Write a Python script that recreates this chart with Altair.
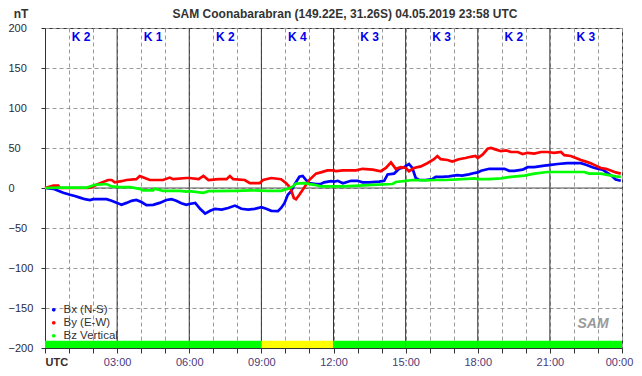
import altair as alt
import pandas as pd

FONT = "Liberation Sans"

# ---- data (hours UTC, nT) ----
bx_hours = [0, 0.35, 0.55, 0.76, 1.04, 1.24, 1.45, 1.66, 1.87, 2.0, 2.56, 2.77, 3.0, 3.18, 3.39, 3.6, 3.8, 4.01,
            4.22, 4.5, 4.77, 5.05, 5.26, 5.46, 5.67, 5.88, 6.0, 6.25, 6.45, 6.66, 6.87, 7.07, 7.35, 7.62, 7.9, 8.17,
            8.45, 8.72, 9.0, 9.2, 9.41, 9.69, 9.82, 9.96, 10.1, 10.24, 10.37, 10.58, 10.72, 10.86, 10.99, 11.27,
            11.47, 11.61, 11.89, 12.04, 12.18, 12.39, 12.73, 13.0, 13.21, 13.49, 13.9, 14.11, 14.25, 14.52, 14.73,
            14.94, 15.14, 15.28, 15.42, 15.56, 15.83, 16.11, 16.25, 16.52, 16.8, 17.15, 17.35, 17.63, 17.9, 18.0,
            18.14, 18.48, 18.83, 19.11, 19.31, 19.52, 19.87, 20.07, 20.35, 20.77, 21.04, 21.32, 21.73, 22.01, 22.29,
            22.5, 22.77, 22.98, 23.19, 23.39, 23.6, 23.74, 23.95]
bx_values = [0, -1, -3.4, -6, -8.5, -10, -12, -14, -15, -14, -14, -16, -18.6, -21, -18.6, -16, -15, -17.5,
             -21.5, -21, -18.6, -15, -14, -16, -19, -21, -20, -18.6, -26, -32, -28.5, -26, -27, -25, -22, -26,
             -27, -26, -24, -26, -28.5, -29, -25, -19, -8.5, -4, 4, 14, 15, 10, 6, 5,
             5, 7, 8.5, 8, 9, 6, 9, 9, 7, 7, 8, 9, 17, 18, 24,
             26, 30, 25, 12.5, 10, 10, 11, 14, 14, 14.5, 16, 15.5, 17, 19, 19.5,
             21.5, 24, 24, 24, 21.5, 21.5, 23, 26, 26, 28, 29, 30, 31, 31, 31,
             29, 26, 24, 23, 19, 14.5, 10.5, 9]

by_hours = [0, 0.35, 0.55, 0.62, 1.8, 1.94, 2.21, 2.42, 2.63, 2.77, 2.9, 3.18, 3.39, 3.8, 3.94, 4.15, 4.36, 4.91,
            5.19, 5.33, 5.88, 6.0, 6.39, 6.59, 6.8, 7.21, 7.55, 7.69, 7.83, 8.31, 8.52, 8.93, 9.07, 9.41, 9.82,
            10.03, 10.21, 10.35, 10.44, 10.58, 10.79, 10.99, 11.27, 11.47, 11.75, 12.0, 12.11, 12.39, 12.94, 13.21,
            13.63, 13.97, 14.18, 14.39, 14.59, 14.8, 15.01, 15.14, 15.35, 15.63, 15.9, 16.18, 16.32, 16.46, 16.74,
            16.94, 17.21, 17.49, 17.7, 17.9, 18.0, 18.21, 18.41, 18.55, 18.76, 18.97, 19.18, 19.38, 19.66, 19.87,
            20.07, 20.35, 20.63, 20.9, 21.18, 21.46, 21.6, 21.87, 22.08, 22.29, 22.5, 22.7, 22.91, 23.12, 23.33,
            23.53, 23.74, 23.95]
by_values = [0, 3, 3, 0, 0, 1, 5, 7.5, 10, 10, 7, 8.5, 10, 11, 15, 12.5, 10, 10,
             13, 11, 12.5, 12.5, 11, 15, 10, 11, 11, 15, 11, 10, 6, 6, 10, 12.5, 11,
             6, 0, -12.5, -14, -8.5, 1, 10, 18, 19.5, 22, 22, 21, 22, 22, 24,
             23, 21, 25, 32, 24, 26, 25, 21, 25, 27, 31, 36, 40, 36, 35,
             33, 36, 37.5, 39, 40, 37.5, 42, 49, 50, 48, 46, 47, 45, 45, 42.5,
             44, 43, 45, 45, 44, 45, 41, 40, 37.5, 35, 33, 31, 28, 25, 24,
             22, 19.5, 18]

bz_hours = [0, 0.62, 1.73, 1.87, 2.07, 2.56, 2.77, 3.11, 3.53, 3.94, 4.08, 4.5, 4.56, 4.91, 5.6, 5.88, 6.0, 6.59,
            6.8, 7.9, 8.59, 9.27, 9.82, 10.1, 10.31, 10.44, 10.79, 11.2, 11.47, 12.02, 12.39, 13.08, 13.63, 14.46,
            14.59, 15.01, 15.28, 15.83, 16.25, 16.66, 17.35, 17.9, 18.0, 18.48, 18.97, 19.38, 19.94, 20.35, 20.9,
            21.46, 22.01, 22.43, 22.63, 23.12, 23.39, 23.74, 23.95]
bz_values = [0, 0.5, 0.5, 2, 4, 5, 2, 1, 1, -1, -3, -3, -1, -3.5, -3.5, -4.5, -4, -6,
             -4, -3.5, -3, -3.5, -3.5, -1, 2, 5.5, 6, 4, 2, 2, 2, 3, 4, 5,
             7.5, 9, 10, 9.5, 10, 10, 11, 12, 11, 11, 12, 14, 15.5, 18, 20,
             20, 20, 20, 18, 18, 16.5, 14.5, 14]

series_names = ["Bx (N-S)", "By (E-W)", "Bz Vertical"]
series_colors = ["#0000FF", "#FF0000", "#00FF00"]

k_start = [0, 3, 6, 9, 12, 15, 18, 21]
k_index = [2, 1, 2, 4, 3, 3, 2, 3]

y_ticks = [-200, -150, -100, -50, 0, 50, 100, 150, 200]
x_ticks = list(range(25))
major_hours = [3, 6, 9, 12, 15, 18, 21]

title_text = "SAM Coonabarabran (149.22E, 31.26S) 04.05.2019 23:58 UTC"

# ---- tables ----
rows = []
for name, ts, vs in zip(series_names, [bx_hours, by_hours, bz_hours], [bx_values, by_values, bz_values]):
    assert len(ts) == len(vs), name
    for t, v in zip(ts, vs):
        rows.append({"hour": t, "nT": v, "series": name})
lines_df = pd.DataFrame(rows)

k_df = pd.DataFrame({
    "hour": k_start,
    "end": [s + 3 for s in k_start],
    "mid": [s + 1.5 for s in k_start],
    "K": k_index,
    "label": [f"K {k}" for k in k_index],
    "nT": [-200] * len(k_start),
    "hi": [-191] * len(k_start),
})

xs = alt.Scale(domain=[0, 24], nice=False, zero=False)
ys = alt.Scale(domain=[-200, 200], nice=False, zero=False)

label_expr = ("datum.value == 0 ? 'UTC' : (datum.value % 3 != 0 ? '' : "
              "(datum.value == 24 ? '00:00' : (datum.value < 10 ? '0' : '') + datum.value + ':00'))")

x_axis = alt.Axis(
    values=x_ticks, labelExpr=label_expr, title=None, grid=True, gridDash=[4, 3], gridColor="#9a9a9a",
    tickSize=5, tickColor="#333333", domainColor="#333333", labelFontSize=11, labelFont=FONT,
    labelColor={"condition": {"test": "datum.value == 0", "value": "#3a2a2a"}, "value": "#4a3a7a"},
    labelFontWeight={"condition": {"test": "datum.value == 0", "value": "bold"}, "value": "normal"},
    labelAlign={"condition": {"test": "datum.value == 0", "value": "left"}, "value": "center"},
    labelOffset={"condition": {"test": "datum.value == 24", "value": -3}, "value": 0},
    labelPadding=3, labelFlush=False, labelOverlap=False,
)
y_axis = alt.Axis(
    values=y_ticks, title=None, grid=True, gridDash=[4, 3], gridColor="#9a9a9a",
    tickSize=4, tickColor="#333333", domainColor="#333333", labelFontSize=11, labelFont=FONT,
    labelColor="#2a2a3a", labelAlign="left", labelBaseline="middle", labelPadding=33,
    labelFlush=False, labelOverlap=False,
)

X = alt.X("hour:Q", scale=xs, axis=x_axis)
Y = alt.Y("nT:Q", scale=ys, axis=y_axis)

lines = alt.Chart(lines_df).mark_line(strokeWidth=2.7).encode(
    x=X,
    y=Y,
    color=alt.Color(
        "series:N",
        scale=alt.Scale(domain=series_names, range=series_colors),
        legend=alt.Legend(
            orient="none", legendX=3, legendY=276, title=None, padding=0,
            symbolType="circle", symbolSize=3, symbolStrokeWidth=2,
            labelFontSize=11.5, labelFont=FONT, labelColor="#333333", labelOffset=4, rowPadding=0,
        ),
    ),
)

vrules = alt.Chart(pd.DataFrame({"hour": major_hours})).mark_rule(color="#333333", strokeWidth=1).encode(
    x=X
)
zero_rule = alt.Chart(pd.DataFrame({"nT": [0]})).mark_rule(color="#555555", strokeWidth=1).encode(
    y=Y
)

k_bar = alt.Chart(k_df).mark_rect().encode(
    x=X,
    x2="end:Q",
    y=Y,
    y2="hi:Q",
    color=alt.condition("datum.K >= 4", alt.value("#FFFF00"), alt.value("#00FF00")),
)

k_text = alt.Chart(k_df).mark_text(font=FONT, fontSize=12, fontWeight="bold", color="#0000EE",
                                   baseline="middle").encode(
    x=alt.X("mid:Q", scale=xs, axis=x_axis),
    y=alt.value(9),
    text="label:N",
)

title = alt.Chart(pd.DataFrame({"t": [title_text]})).mark_text(
    font=FONT, fontSize=12, fontWeight="bold", color="#333333", baseline="middle"
).encode(x=alt.value(300), y=alt.value(-14), text="t:N")

unit = alt.Chart(pd.DataFrame({"t": ["nT"]})).mark_text(
    font=FONT, fontSize=12, fontWeight="bold", color="#333333", baseline="middle"
).encode(x=alt.value(-24), y=alt.value(-14), text="t:N")

logo = alt.Chart(pd.DataFrame({"t": ["SAM"]})).mark_text(
    font=FONT, fontSize=14, fontWeight="bold", fontStyle="italic", color="#9a9a9a", baseline="middle"
).encode(x=alt.value(548), y=alt.value(296), text="t:N")

chart = alt.layer(vrules, zero_rule, k_bar, lines, k_text, title, unit, logo).properties(
    width=577, height=320,
    autosize=alt.AutoSizeParams(type="none"),
    padding={"left": 37, "top": 20, "right": 12, "bottom": 20},
    background="white",
).configure_view(stroke="#333333", strokeWidth=1)

chart.save("out.html", embed_options={"renderer": "svg", "actions": False})
